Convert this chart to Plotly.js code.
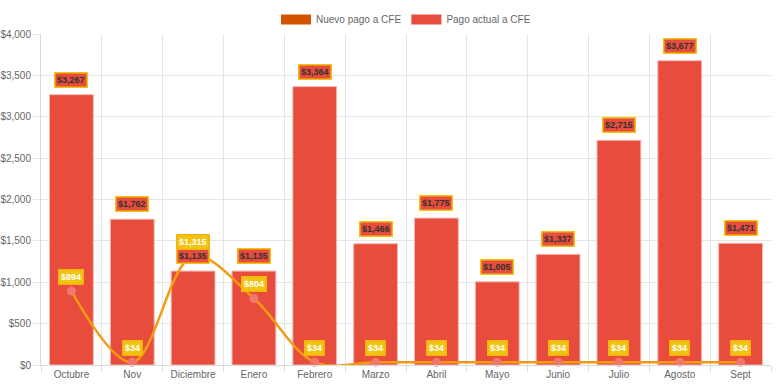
<!DOCTYPE html>
<html><head><meta charset="utf-8">
<script src="https://cdn.plot.ly/plotly-3.0.1.min.js"></script>
<style>html,body{margin:0;padding:0;background:#fff}#chart{width:776px;height:388px}</style>
</head><body><div id="chart"></div>
<script>
const months = ['Octubre','Nov','Diciembre','Enero','Febrero','Marzo','Abril','Mayo','Junio','Julio','Agosto','Sept'];
const pagoActual = [3267,1762,1135,1135,3364,1466,1775,1005,1337,2715,3677,1471];
const nuevoPago = [894,34,1315,804,34,34,34,34,34,34,34,34];

const fmt = v => '$' + v.toLocaleString('en-US');
const font = 'Liberation Sans, Arial, sans-serif';
const nulls = months.map(()=>null);

const traces = [
  {type:'scatter', mode:'lines', name:'Nuevo pago a CFE', x:months, y:nulls,
   line:{color:'#d35400', width:10}, hoverinfo:'skip'},
  {type:'scatter', mode:'lines', name:'Pago actual a CFE', x:months, y:nulls,
   line:{color:'#e74c3c', width:10}, hoverinfo:'skip'},
  {type:'bar', name:'Pago actual a CFE', x:months, y:pagoActual, showlegend:false,
   marker:{color:'#e74c3c', line:{color:'#f5b7b1', width:1}}},
  {type:'scatter', mode:'lines+markers', name:'Nuevo pago a CFE', showlegend:false,
   x:months, y:nuevoPago, line:{color:'#f39c12', width:2.5, shape:'spline', smoothing:1},
   marker:{color:'#f0786b', size:9}, cliponaxis:false}
];

const annotations = [];
months.forEach((m,i)=>{
  annotations.push({x:m, y:pagoActual[i], xref:'x', yref:'y', text:'<b>'+fmt(pagoActual[i])+'</b>',
    showarrow:false, yanchor:'middle', yshift:15, font:{family:font,size:9,color:'#333333'},
    bgcolor:'#e74c3c', bordercolor:'#f1c40f', borderwidth:1.5, borderpad:1.5});
});
months.forEach((m,i)=>{
  annotations.push({x:m, y:nuevoPago[i], xref:'x', yref:'y', text:'<b>'+fmt(nuevoPago[i])+'</b>',
    showarrow:false, yanchor:'middle', yshift:14, font:{family:font,size:9,color:'#ffffff'},
    bgcolor:'#f1c40f', bordercolor:'#f3b20f', borderwidth:1.5, borderpad:1.5});
});

const layout = {
  width:776, height:388,
  margin:{l:41, r:5, t:25, b:23},
  paper_bgcolor:'#fff', plot_bgcolor:'#fff',
  font:{family:font, size:10, color:'#666'},
  barmode:'overlay', bargap:0.28,
  showlegend:true,
  legend:{orientation:'h', x:0.5, xanchor:'center', y:1.0, yanchor:'bottom', yref:'paper',
    font:{size:10, color:'#666'}, traceorder:'normal', itemwidth:30, tracegroupgap:0},
  xaxis:{type:'category', range:[-0.5, 11.5], tickson:'boundaries', ticks:'outside', ticklen:6, tickcolor:'#e0e0e0',
    showgrid:true, gridcolor:'#e5e5e5', showline:true, linecolor:'#d9d9d9', automargin:false,
    tickfont:{size:10, color:'#666'}},
  yaxis:{range:[0,4000], dtick:500, tickprefix:'$', tickformat:',d', showgrid:true,
    gridcolor:'#e5e5e5', showline:true, linecolor:'#d9d9d9', ticks:'outside', ticklen:7,
    tickcolor:'#e5e5e5', zeroline:false, automargin:false, tickfont:{size:10, color:'#666'}},
  annotations:annotations
};
Plotly.newPlot('chart', traces, layout, {displayModeBar:false, staticPlot:true});
</script></body></html>
